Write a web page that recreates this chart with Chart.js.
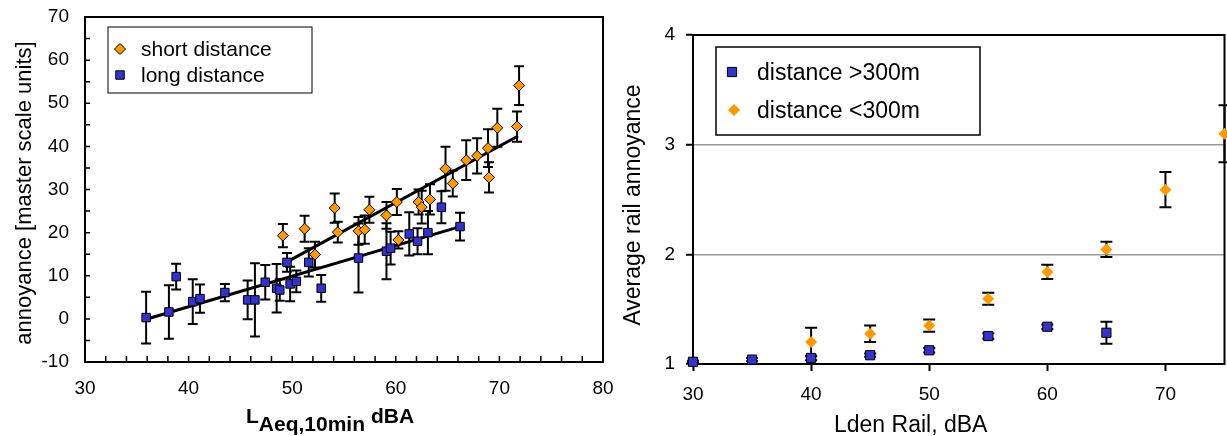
<!DOCTYPE html>
<html lang="en">
<head>
<meta charset="UTF-8">
<title>Rail annoyance</title>
<style>
  body { margin: 0; background: #fff; overflow: hidden; }
  canvas { position: absolute; top: 0; }
  #left { left: 0; }
  #right { left: 610px; }
</style>
</head>
<body>
<canvas id="left" width="625" height="436"></canvas>
<canvas id="right" width="622" height="436"></canvas>

<script src="https://cdn.jsdelivr.net/npm/chart.js"></script>
<script>
// ---- left panel: annoyance vs LAeq,10min ----
const shortX = [49.1, 51.2, 52.2, 54.1, 54.4, 56.4, 57.0, 57.45, 59.1, 60.1, 60.25, 62.2, 62.5, 63.3, 64.8, 65.5, 66.8, 67.85, 68.9, 69.0, 69.8, 71.7, 71.9];
const shortY = [19.3, 20.9, 14.9, 25.7, 20.1, 20.4, 20.7, 25.3, 24.0, 27.1, 18.3, 27.1, 25.9, 27.7, 34.8, 31.4, 36.8, 37.8, 39.6, 32.8, 44.3, 44.6, 54.1];
const shortErr = [2.7, 3.0, 3.0, 3.4, 2.4, 3.2, 3.3, 3.0, 3.1, 3.0, 2.0, 2.9, 3.8, 3.5, 5.1, 3.0, 4.6, 4.1, 4.4, 3.5, 4.4, 3.5, 4.5];

const longX = [35.9, 38.1, 38.8, 40.4, 41.1, 43.5, 45.7, 46.4, 47.4, 48.5, 48.8, 49.5, 49.8, 50.4, 51.6, 52.8, 56.4, 59.1, 59.5, 61.3, 62.1, 63.1, 64.4, 66.2];
const longY = [0.3, 1.6, 9.8, 4.0, 4.7, 6.1, 4.4, 4.4, 8.5, 7.1, 6.7, 13.1, 8.1, 8.7, 13.1, 7.1, 14.1, 15.7, 16.4, 19.7, 18.0, 20.0, 25.9, 21.4];
const longErr = [6.0, 6.2, 3.0, 5.2, 3.3, 2.0, 4.5, 8.5, 4.0, 5.6, 2.5, 2.2, 4.0, 2.5, 3.3, 3.1, 8.0, 6.5, 3.8, 5.0, 3.0, 5.0, 3.7, 3.2];

// regression lines (end points)
const fitShortX = [49.1, 71.8];
const fitShortY = [12.7, 42.4];
const fitLongX = [35.9, 66.2];
const fitLongY = [-0.1, 21.4];

const leftXRange = [30, 80];
const leftYRange = [-10, 70];

// ---- right panel: average rail annoyance vs Lden ----
const farX = [30, 35, 40, 45, 50, 55, 60, 65];
const farY = [1.02, 1.04, 1.055, 1.08, 1.125, 1.255, 1.34, 1.285];
const farErr = [0.01, 0.015, 0.02, 0.015, 0.02, 0.025, 0.02, 0.1];

const nearX = [40, 45, 50, 55, 60, 65, 70, 75];
const nearY = [1.2, 1.275, 1.35, 1.595, 1.84, 2.045, 2.59, 3.1];
const nearErr = [0.13, 0.075, 0.055, 0.055, 0.065, 0.07, 0.16, 0.26];

const rightXRange = [30, 75];
const rightYRange = [1, 4];

const ORANGE = '#FF9900';
const BLUE = '#3333CC';
const FONT = "'Liberation Sans', Arial, sans-serif";

function pts(xs, ys) {
    return xs.map((x, i) => ({ x: x, y: ys[i] }));
}

function marker(ctx, style, x, y, r, fill, stroke) {
    ctx.save();
    ctx.beginPath();
    if (style === 'rect') {
        const s = Math.SQRT1_2 * r;
        ctx.rect(x - s, y - s, 2 * s, 2 * s);
    } else {
        ctx.moveTo(x - r, y);
        ctx.lineTo(x, y - r);
        ctx.lineTo(x + r, y);
        ctx.lineTo(x, y + r);
        ctx.closePath();
    }
    ctx.fillStyle = fill;
    ctx.fill();
    if (stroke) {
        ctx.strokeStyle = stroke;
        ctx.lineWidth = 1;
        ctx.stroke();
    }
    ctx.restore();
}

// vertical error bars with caps, drawn under the markers
const errorBars = {
    id: 'errorBars',
    beforeDatasetsDraw(chart, args, opts) {
        const ctx = chart.ctx;
        const ys = chart.scales.y;
        chart.data.datasets.forEach((ds, i) => {
            if (!ds.errs) return;
            const meta = chart.getDatasetMeta(i);
            ctx.save();
            ctx.strokeStyle = '#000';
            ctx.lineWidth = opts.width;
            meta.data.forEach((p, j) => {
                const v = ds.data[j].y, e = ds.errs[j];
                const t = ys.getPixelForValue(v + e), b = ys.getPixelForValue(v - e);
                ctx.beginPath();
                ctx.moveTo(p.x, t); ctx.lineTo(p.x, b);
                ctx.moveTo(p.x - opts.cap, t); ctx.lineTo(p.x + opts.cap, t);
                ctx.moveTo(p.x - opts.cap, b); ctx.lineTo(p.x + opts.cap, b);
                ctx.stroke();
            });
            ctx.restore();
        });
    }
};

// box round the plot area plus the little inside ticks
const frame = {
    id: 'frame',
    beforeDatasetsDraw(chart, args, opts) {
        const { ctx, chartArea: a, scales } = chart;
        ctx.save();
        ctx.strokeStyle = '#000';
        ctx.lineWidth = 2;
        ctx.strokeRect(a.left, a.top, a.right - a.left, a.bottom - a.top);
        if (opts.innerX) {
            ctx.lineWidth = 1.5;
            ctx.beginPath();
            for (let v = scales.x.min; v <= scales.x.max; v += opts.innerX) {
                const px = scales.x.getPixelForValue(v);
                ctx.moveTo(px, a.bottom); ctx.lineTo(px, a.bottom - 6);
            }
            for (let v = scales.y.min; v <= scales.y.max; v += opts.innerY) {
                const py = scales.y.getPixelForValue(v);
                ctx.moveTo(a.left, py); ctx.lineTo(a.left + 5, py);
            }
            ctx.stroke();
        }
        ctx.restore();
    }
};

// legend box and axis titles
const decor = {
    id: 'decor',
    afterDraw(chart, args, opts) {
        const ctx = chart.ctx;
        ctx.save();
        const L = opts.legend;
        ctx.fillStyle = '#fff';
        ctx.fillRect(L.box[0], L.box[1], L.box[2], L.box[3]);
        ctx.strokeStyle = '#000';
        ctx.lineWidth = L.line;
        ctx.strokeRect(L.box[0], L.box[1], L.box[2], L.box[3]);
        ctx.font = L.font + 'px ' + FONT;
        ctx.textBaseline = 'alphabetic';
        L.items.forEach(it => {
            const ds = chart.data.datasets[it.ds];
            marker(ctx, ds.pointStyle, it.mx, it.my, ds.pointRadius, ds.backgroundColor, ds.borderWidth ? '#000' : null);
            ctx.fillStyle = '#000';
            ctx.fillText(ds.label, it.tx, it.ty);
        });
        opts.texts.forEach(t => {
            ctx.save();
            ctx.font = (t.bold ? 'bold ' : '') + t.size + 'px ' + FONT;
            ctx.fillStyle = '#000';
            ctx.textAlign = t.align || 'left';
            ctx.translate(t.x, t.y);
            if (t.rot) ctx.rotate(-Math.PI / 2);
            ctx.fillText(t.text, 0, 0);
            ctx.restore();
        });
        if (opts.run) {
            // "L" + subscript "Aeq,10min" + "dBA"
            ctx.font = 'bold 21px ' + FONT;
            ctx.fillStyle = '#000';
            let x = opts.run.x;
            opts.run.parts.forEach(p => {
                ctx.fillText(p.t, x, opts.run.y + p.dy);
                x += ctx.measureText(p.t).width + (p.gap || 0);
            });
        }
        ctx.restore();
    }
};

Chart.register(errorBars, frame, decor);
Chart.defaults.font.family = FONT;
Chart.defaults.color = '#000';

new Chart(document.getElementById('left'), {
    type: 'scatter',
    data: {
        datasets: [
            { label: 'short distance', data: pts(shortX, shortY), errs: shortErr,
              pointStyle: 'rectRot', pointRadius: 5.5, backgroundColor: ORANGE, borderColor: '#000', borderWidth: 1 },
            { label: 'long distance', data: pts(longX, longY), errs: longErr,
              pointStyle: 'rect', pointRadius: 6, backgroundColor: BLUE, borderColor: '#000', borderWidth: 1 },
            { type: 'line', label: 'fit short', data: pts(fitShortX, fitShortY),
              borderColor: '#000', borderWidth: 3, pointRadius: 0, fill: false },
            { type: 'line', label: 'fit long', data: pts(fitLongX, fitLongY),
              borderColor: '#000', borderWidth: 3, pointRadius: 0, fill: false }
        ]
    },
    options: {
        responsive: false,
        animation: false,
        devicePixelRatio: 1,
        layout: { padding: { top: 17, right: 22, left: 0, bottom: 0 } },
        scales: {
            x: {
                type: 'linear', min: leftXRange[0], max: leftXRange[1],
                ticks: { stepSize: 10, font: { size: 19 }, padding: 15 },
                grid: { display: false, drawTicks: false },
                border: { display: false },
                afterFit(s) { s.height = 74; s.paddingLeft = 0; s.paddingRight = 0; }
            },
            y: {
                min: leftYRange[0], max: leftYRange[1],
                ticks: { stepSize: 10, font: { size: 19 }, padding: 16 },
                grid: { display: false, drawTicks: false },
                border: { display: false },
                afterFit(s) { s.width = 85; s.paddingTop = 0; s.paddingBottom = 0; }
            }
        },
        plugins: {
            legend: { display: false },
            tooltip: { enabled: false },
            errorBars: { cap: 5, width: 2 },
            frame: { innerX: 2, innerY: 5 },
            decor: {
                legend: {
                    box: [108, 27, 204, 66], line: 1, font: 21,
                    items: [
                        { ds: 0, mx: 120, my: 49, tx: 141, ty: 56 },
                        { ds: 1, mx: 120, my: 75, tx: 141, ty: 82 }
                    ]
                },
                texts: [
                    { text: 'annoyance [master scale units]', size: 22, x: 31, y: 193, rot: true, align: 'center' }
                ],
                run: { x: 246, y: 423, parts: [
                    { t: 'L', dy: 0 },
                    { t: 'Aeq,10min', dy: 8, gap: 6 },
                    { t: 'dBA', dy: 0 }
                ] }
            }
        }
    }
});

new Chart(document.getElementById('right'), {
    type: 'scatter',
    data: {
        datasets: [
            { label: 'distance >300m', data: pts(farX, farY), errs: farErr,
              pointStyle: 'rect', pointRadius: 6.5, backgroundColor: BLUE, borderColor: '#000', borderWidth: 1, clip: false },
            { label: 'distance <300m', data: pts(nearX, nearY), errs: nearErr,
              pointStyle: 'rectRot', pointRadius: 6, backgroundColor: ORANGE, borderWidth: 0, clip: false }
        ]
    },
    options: {
        responsive: false,
        animation: false,
        devicePixelRatio: 1,
        layout: { padding: { top: 35, right: 1, left: 0, bottom: 0 } },
        scales: {
            x: {
                type: 'linear', min: rightXRange[0], max: rightXRange[1],
                ticks: { stepSize: 10, font: { size: 19 }, padding: 12 },
                grid: { drawOnChartArea: false, tickLength: 7, tickColor: '#000', tickWidth: 2 },
                border: { color: '#000', width: 2 },
                afterBuildTicks(s) { s.ticks = s.ticks.filter(t => t.value % 10 === 0); },
                afterFit(s) { s.height = 72; s.paddingLeft = 0; s.paddingRight = 0; }
            },
            y: {
                min: rightYRange[0], max: rightYRange[1],
                ticks: { stepSize: 1, font: { size: 19 }, padding: 11 },
                grid: {
                    color: c => (c.tick && (c.tick.value === 2 || c.tick.value === 3)) ? '#999' : 'rgba(0,0,0,0)',
                    lineWidth: 1.5, tickLength: 7, tickColor: '#000', tickWidth: 2
                },
                border: { color: '#000', width: 2 },
                afterFit(s) { s.width = 83; s.paddingTop = 0; s.paddingBottom = 0; }
            }
        },
        plugins: {
            legend: { display: false },
            tooltip: { enabled: false },
            errorBars: { cap: 6, width: 2 },
            frame: {},
            decor: {
                legend: {
                    box: [106, 47, 264, 88], line: 1.5, font: 23,
                    items: [
                        { ds: 0, mx: 122, my: 72, tx: 147, ty: 80 },
                        { ds: 1, mx: 124, my: 110, tx: 147, ty: 118 }
                    ]
                },
                texts: [
                    { text: 'Average rail annoyance', size: 23, x: 30, y: 205, rot: true, align: 'center' },
                    { text: 'Lden Rail, dBA', size: 23, x: 224, y: 432 }
                ]
            }
        }
    }
});
</script>
</body>
</html>
